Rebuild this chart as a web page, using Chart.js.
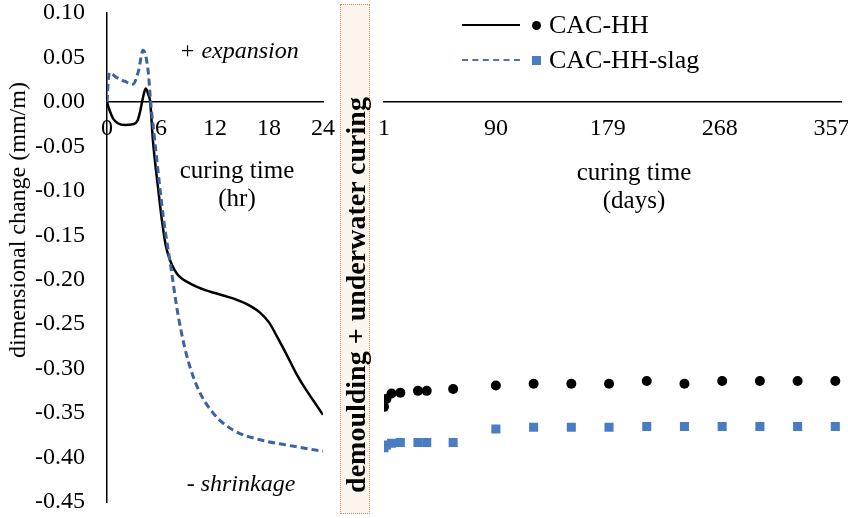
<!DOCTYPE html>
<html>
<head>
<meta charset="utf-8">
<script src="https://cdn.jsdelivr.net/npm/chart.js@4.4.1/dist/chart.umd.min.js"></script>
<style>
  body { margin: 0; background: #fff; }
  #wrap { position: relative; width: 848px; height: 518px; overflow: hidden; font-family: "Liberation Serif", "Times New Roman", serif; color: #000; }
  #wrap canvas { position: absolute; left: 0; top: 0; }
  .note { position: absolute; transform: translate(-50%, -50%); white-space: nowrap; line-height: 1; }
  .it { font-style: italic; font-size: 24px; }
  .ttl { font-size: 25px; text-align: center; line-height: 28px; }
  #ytitle { font-size: 24px; transform: translate(-50%, -50%) rotate(-90deg); }
  #band { position: absolute; left: 340px; top: 4px; width: 30px; height: 510px; box-sizing: border-box;
          background: #fcf5ee; border: 1px dotted #cf8a55; }
  #band span { position: absolute; left: 15px; top: 290px; transform: translate(-50%, -50%) rotate(-90deg);
               white-space: nowrap; font-weight: bold; font-size: 28px; line-height: 1; }
  .leg { position: absolute; left: 462px; height: 30px; display: flex; align-items: center; font-size: 26px; }
  .leg .ln { width: 58px; height: 0; }
  .leg .mk { margin-left: 12px; margin-right: 8px; }
</style>
</head>
<body>
<div id="wrap">
  <canvas id="hours" width="848" height="518"></canvas>
  <canvas id="days" width="848" height="518"></canvas>
  <div id="band"><span>demoulding + underwater curing</span></div>
  <div id="ytitle" class="note" style="left:17px; top:220px;">dimensional change (mm/m)</div>
  <div class="note it" style="left:239px; top:50px;">+ expansion</div>
  <div class="note it" style="left:241px; top:483px;">- shrinkage</div>
  <div class="note ttl" style="left:237px; top:184px;">curing time<br>(hr)</div>
  <div class="note ttl" style="left:634px; top:186px;">curing time<br>(days)</div>
  <div class="leg" style="top:10px;">
    <span class="ln" style="border-top:2.5px solid #000;"></span>
    <span class="mk" style="width:9px;height:9px;border-radius:50%;background:#000;"></span>
    <span>CAC-HH</span>
  </div>
  <div class="leg" style="top:45px;">
    <span class="ln" style="border-top:2.5px dashed #4a72b8;"></span>
    <span class="mk" style="width:9px;height:9px;background:#4a7cc4;"></span>
    <span>CAC-HH-slag</span>
  </div>
</div>
<script>
// early age, hours
const hhHours = [0, 0.3, 0.7, 1.2, 2.0, 2.9, 3.4, 3.7, 4.0, 4.3, 4.6, 4.8, 5.1, 5.7, 6.1, 6.5, 7.0, 7.5, 8, 9, 10, 11, 12, 13, 14, 15, 16, 17, 18, 19, 20, 21, 22, 23, 24];
const hhEarly = [0, -0.010, -0.019, -0.024, -0.026, -0.025, -0.021, -0.010, 0.005, 0.015, 0.008, 0, -0.043, -0.099, -0.133, -0.160, -0.178, -0.189, -0.196, -0.203, -0.208, -0.212, -0.215, -0.218, -0.221, -0.225, -0.230, -0.237, -0.248, -0.266, -0.285, -0.305, -0.322, -0.337, -0.352];

const slagHours = [0, 0.15, 0.3, 1.0, 2.0, 2.9, 3.5, 4.0, 4.3, 4.6, 4.85, 5.3, 5.9, 6.3, 7.1, 7.8, 8.7, 10, 11.8, 14, 17, 20, 24];
const slagEarly = [0, 0.025, 0.033, 0.028, 0.023, 0.020, 0.035, 0.058, 0.052, 0.032, 0, -0.043, -0.099, -0.133, -0.186, -0.234, -0.279, -0.320, -0.350, -0.369, -0.380, -0.386, -0.393];

// underwater curing, days
const days = [1, 3, 7, 14, 28, 35, 56, 90, 120, 150, 180, 210, 240, 270, 300, 330, 360];
const hhLate = [-0.343, -0.334, -0.328, -0.327, -0.325, -0.325, -0.323, -0.319, -0.317, -0.317, -0.317, -0.314, -0.317, -0.314, -0.314, -0.314, -0.314];
const slagLate = [-0.389, -0.386, -0.384, -0.383, -0.383, -0.383, -0.383, -0.368, -0.366, -0.366, -0.366, -0.365, -0.365, -0.365, -0.365, -0.365, -0.365];

const yTicks = [-0.45, -0.40, -0.35, -0.30, -0.25, -0.20, -0.15, -0.10, -0.05, 0.00, 0.05, 0.10];
const dayTicks = [1, 90, 179, 268, 357];

const serif = '"Liberation Serif", "Times New Roman", serif';
const pts = (xs, ys) => xs.map((x, i) => ({ x, y: ys[i] }));
const noPad = s => { s.paddingLeft = 0; s.paddingRight = 0; s.paddingTop = 0; s.paddingBottom = 0; };

new Chart(document.getElementById('hours'), {
    type: 'line',
    data: {
        datasets: [
            { label: 'CAC-HH', data: pts(hhHours, hhEarly), borderColor: '#000', borderWidth: 2.5,
              pointRadius: 0, cubicInterpolationMode: 'monotone', order: 1 },
            { label: 'CAC-HH-slag', data: pts(slagHours, slagEarly), borderColor: '#3d62a0', borderWidth: 3,
              borderDash: [7, 4], pointRadius: 0, cubicInterpolationMode: 'monotone', order: 0 }
        ]
    },
    options: {
        responsive: false,
        animation: false,
        devicePixelRatio: 1,
        layout: { padding: { left: 0, right: 525, top: 13, bottom: 16 } },
        plugins: { legend: { display: false }, tooltip: { enabled: false } },
        scales: {
            x: {
                type: 'linear', position: { y: 0 }, min: 0, max: 24,
                grid: { display: false, drawTicks: false },
                border: { color: '#000', width: 1.5 },
                ticks: { stepSize: 6, color: '#000', padding: 12, maxRotation: 0, font: { family: serif, size: 24 } },
                afterFit: noPad
            },
            y: {
                min: -0.45, max: 0.10,
                grid: { display: false, drawTicks: false },
                border: { color: '#000', width: 1.5 },
                afterBuildTicks: s => { s.ticks = yTicks.map(v => ({ value: v })); },
                ticks: { color: '#000', padding: 22, font: { family: serif, size: 24, lineHeight: 1 },
                         callback: v => v.toFixed(2) },
                afterFit: s => { noPad(s); s.width = 107; }
            }
        }
    }
});

new Chart(document.getElementById('days'), {
    type: 'scatter',
    data: {
        datasets: [
            { label: 'CAC-HH', data: pts(days, hhLate), pointStyle: 'circle', pointRadius: 5,
              backgroundColor: '#000', borderWidth: 0 },
            { label: 'CAC-HH-slag', data: pts(days, slagLate), pointStyle: 'rect', pointRadius: 6.4,
              backgroundColor: '#4a7cc4', borderWidth: 0 }
        ]
    },
    options: {
        responsive: false,
        animation: false,
        devicePixelRatio: 1,
        layout: { padding: { left: 384, right: 3, top: 13, bottom: 16 } },
        plugins: { legend: { display: false }, tooltip: { enabled: false } },
        scales: {
            x: {
                type: 'linear', position: { y: 0 }, min: 1, max: 365,
                grid: { display: false, drawTicks: false },
                border: { color: '#000', width: 1.5 },
                afterBuildTicks: s => { s.ticks = dayTicks.map(v => ({ value: v })); },
                ticks: { color: '#000', padding: 12, maxRotation: 0, font: { family: serif, size: 24 } },
                afterFit: noPad
            },
            y: { display: false, min: -0.45, max: 0.10 }
        }
    }
});
</script>
</body>
</html>
